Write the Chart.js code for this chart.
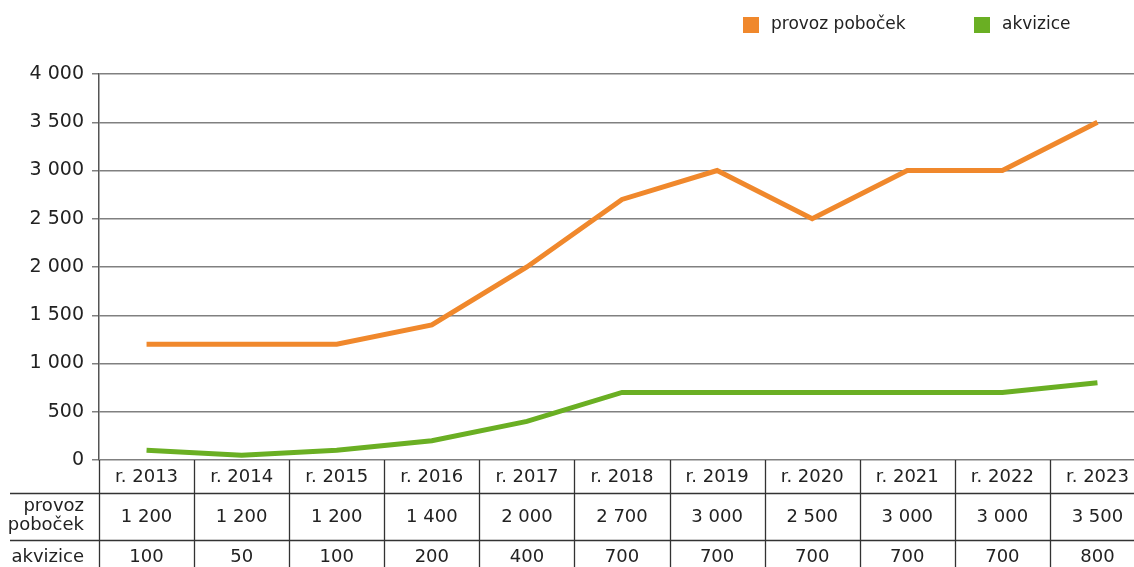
<!DOCTYPE html>
<html>
<head>
<meta charset="utf-8">
<script src="https://cdn.jsdelivr.net/npm/chart.js@4"></script>
<style>
  html, body { margin: 0; padding: 0; background: #fff; overflow: hidden; }
  #wrap { width: 1145px; height: 567px; }
</style>
</head>
<body>
<div id="wrap"><canvas id="chart" width="1145" height="567"></canvas></div>
<script>
const years = ['r. 2013', 'r. 2014', 'r. 2015', 'r. 2016', 'r. 2017', 'r. 2018', 'r. 2019', 'r. 2020', 'r. 2021', 'r. 2022', 'r. 2023'];
const provoz = [1200, 1200, 1200, 1400, 2000, 2700, 3000, 2500, 3000, 3000, 3500];
const akvizice = [100, 50, 100, 200, 400, 700, 700, 700, 700, 700, 800];
const seriesNames = ['provoz poboček', 'akvizice'];
const rowLabels = [['provoz', 'poboček'], ['akvizice']];

const ORANGE = '#F0882C';
const GREEN = '#6AAF23';
const FONT = '"DejaVu Sans", sans-serif';

function fmt(v) {
  return String(v).replace(/\B(?=(\d{3})+(?!\d))/g, ' ');
}

// legend at the top right + data table under the x axis
const extras = {
  id: 'extras',
  afterDraw(chart) {
    const c = chart.ctx;
    const x = chart.scales.x;
    const area = chart.chartArea;
    const n = years.length;
    const w = (area.right - area.left) / n;

    c.save();
    // legend
    c.font = '17px ' + FONT;
    c.textBaseline = 'middle';
    c.textAlign = 'left';
    const legendPos = [743, 974];
    chart.data.datasets.forEach((ds, i) => {
      c.fillStyle = ds.borderColor;
      c.fillRect(legendPos[i], 17, 16, 16);
      c.fillStyle = '#222';
      c.fillText(ds.label, legendPos[i] + 28, 25);
    });

    // table lines
    const top = area.bottom;
    const r1 = 493, r2 = 540, bottom = chart.height;
    c.strokeStyle = '#333';
    c.lineWidth = 1.3;
    c.beginPath();
    for (let i = 0; i <= n; i++) {
      const bx = Math.round(area.left + i * w) + 0.5;
      c.moveTo(bx, top);
      c.lineTo(bx, bottom);
    }
    c.moveTo(10, r1 + 0.5);
    c.lineTo(chart.width, r1 + 0.5);
    c.moveTo(10, r2 + 0.5);
    c.lineTo(chart.width, r2 + 0.5);
    c.stroke();

    // table text
    c.fillStyle = '#222';
    c.font = '18px ' + FONT;
    c.textAlign = 'center';
    const rowsY = [517, 557];
    const rows = chart.data.datasets.map(ds => ds.data);
    years.forEach((y, i) => {
      const cx = x.getPixelForValue(i);
      c.fillText(y, cx, 477);
      rows.forEach((r, j) => c.fillText(fmt(r[i]), cx, rowsY[j]));
    });
    c.textAlign = 'right';
    c.fillText(rowLabels[0][0], 84, 506);
    c.fillText(rowLabels[0][1], 84, 525);
    c.fillText(rowLabels[1][0], 84, 557);
    c.restore();
  }
};

new Chart(document.getElementById('chart'), {
  type: 'line',
  data: {
    labels: years,
    datasets: [
      { label: seriesNames[0], data: provoz, borderColor: ORANGE, backgroundColor: ORANGE },
      { label: seriesNames[1], data: akvizice, borderColor: GREEN, backgroundColor: GREEN }
    ]
  },
  options: {
    responsive: false,
    animation: false,
    layout: { padding: { top: 74, left: 0, right: 0, bottom: 0 } },
    elements: {
      line: { borderWidth: 5, tension: 0, borderCapStyle: 'butt', borderJoinStyle: 'miter' },
      point: { radius: 0 }
    },
    plugins: {
      legend: { display: false },
      tooltip: { enabled: false }
    },
    scales: {
      x: {
        offset: true,
        grid: { display: false },
        border: { display: false },
        ticks: { display: false },
        afterFit(s) { s.height = 107; }
      },
      y: {
        min: 0,
        max: 4000,
        ticks: {
          stepSize: 500,
          padding: 8,
          color: '#222',
          font: { family: FONT, size: 19 },
          callback: v => fmt(v)
        },
        grid: { color: '#808080', lineWidth: 1.5, tickLength: 7 },
        border: { color: '#555', width: 1.5 },
        afterFit(s) { s.width = 99; }
      }
    }
  },
  plugins: [extras]
});
</script>
</body>
</html>
